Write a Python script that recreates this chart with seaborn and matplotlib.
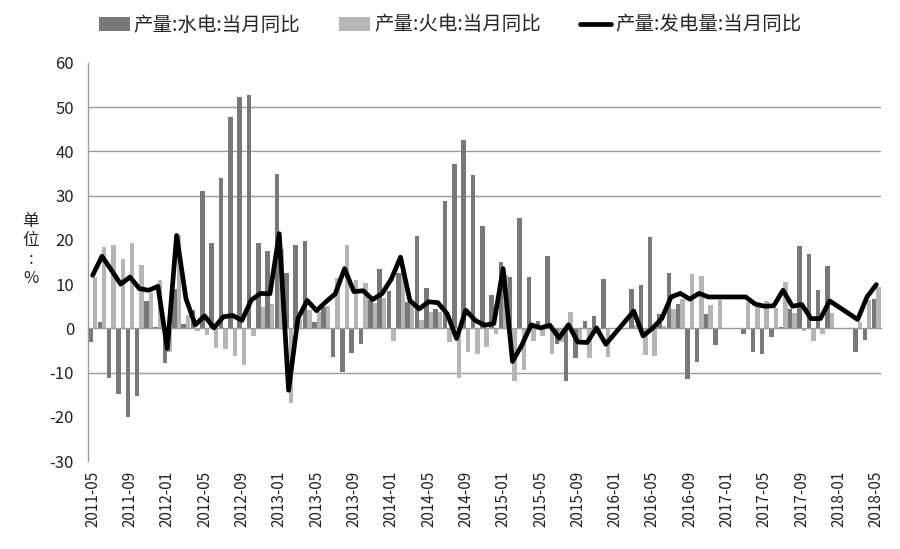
import numpy as np
import pandas as pd
import matplotlib
matplotlib.use("Agg")
import matplotlib.pyplot as plt
import seaborn as sns

nan = np.nan

# ---------------- data ----------------
start_year, start_month, n_months = 2011, 5, 85
months = []
y, m = start_year, start_month
for _ in range(n_months):
    months.append(f"{y}-{m:02d}")
    m += 1
    if m > 12:
        m, y = 1, y + 1

hydro = [-3.1, 1.4, -11.3, -14.8, -20.0, -15.3, 6.1, 0.3, -7.8, 9.0,
         0.9, 4.2, 31.0, 19.3, 34.0, 47.8, 52.3, 52.8, 19.3, 17.4,
         34.8, 12.4, 18.8, 19.7, 1.4, 4.8, -6.5, -9.9, -5.5, -3.5,
         6.3, 13.5, 8.4, 12.4, 6.0, 20.8, 9.2, 4.3, 28.7, 37.1,
         42.6, 34.7, 23.1, 7.5, 14.9, 11.5, 25.0, 11.6, 1.7, 16.3,
         -3.5, -11.9, -6.7, 1.7, 2.9, 11.1, nan, nan, 9.0, 9.9,
         20.6, 3.3, 12.4, 5.4, -11.4, -7.6, 3.2, -3.7, nan, nan,
         -1.2, -5.4, -5.9, -2.0, 0.3, 4.4, 18.6, 16.7, 8.6, 14.0,
         nan, nan, -5.4, -2.7, 6.7]

thermal = [11.6, 18.4, 18.8, 15.6, 19.4, 14.3, 8.0, 10.9, -5.3, 21.0,
           3.0, -0.6, -1.6, -4.4, -4.7, -6.3, -8.3, -1.7, 4.8, 5.4,
           18.0, -16.8, 2.0, 4.1, 3.7, 5.0, 11.4, 18.9, 10.9, 10.3,
           5.7, 6.9, -2.9, 14.0, 5.6, 1.8, 3.8, 3.7, -3.1, -11.2,
           -5.4, -5.9, -4.2, -1.3, 12.0, -11.9, -9.4, -2.9, -1.7, -5.9,
           -3.1, 3.6, -2.7, -6.7, -1.2, -6.5, nan, nan, 0.8, -6.1,
           -6.3, 0.5, 4.4, 6.7, 12.2, 11.8, 5.2, 6.3, nan, nan,
           6.0, 4.8, 6.2, 4.7, 10.4, 3.5, -0.7, -2.9, -1.3, 3.5,
           nan, nan, 1.4, 6.3, 9.4]

total = [12.0, 16.3, 13.2, 10.0, 11.6, 9.0, 8.6, 9.5, -4.6, 21.0,
         6.7, 0.8, 2.8, 0.1, 2.6, 2.9, 1.8, 6.4, 7.9, 7.8,
         21.4, -14.0, 2.2, 6.3, 4.0, 6.0, 7.8, 13.5, 8.3, 8.5,
         6.5, 7.8, 11.1, 16.1, 6.3, 4.4, 6.0, 5.8, 3.3, -2.3,
         4.1, 1.8, 0.7, 1.1, 13.5, -7.5, -3.8, 0.8, 0.1, 0.7,
         -2.2, 0.8, -3.1, -3.2, 0.1, -3.6, nan, nan, 3.9, -1.7,
         0.0, 2.2, 7.1, 7.9, 6.6, 7.9, 7.1, 7.1, nan, nan,
         7.1, 5.5, 5.0, 5.1, 8.6, 5.0, 5.4, 2.2, 2.2, 6.2,
         nan, nan, 2.0, 7.1, 9.9]

name_hydro = "产量:水电:当月同比"
name_thermal = "产量:火电:当月同比"
name_total = "产量:发电量:当月同比"

y_ticks = list(range(-30, 61, 10))
grid_levels = [50, 40, 30, -10]
label_step = 4

# ---------------- styling ----------------
dark = "#787878"
light = "#b5b5b5"
axis_gray = "#9a9a9a"

sns.set_theme(style="white")
plt.rcParams["font.family"] = ["Noto Sans CJK SC", "DejaVu Sans"]
plt.rcParams["axes.unicode_minus"] = False

fig = plt.figure(figsize=(9, 5.49), dpi=100)
ax = fig.add_axes([88 / 900, 88 / 549, 793 / 900, 398 / 549])

bars = pd.DataFrame({"month": months, name_hydro: hydro, name_thermal: thermal})
long = bars.melt(id_vars="month", var_name="series", value_name="value").dropna()

sns.barplot(data=long, x="month", y="value", hue="series",
            order=months, hue_order=[name_hydro, name_thermal],
            palette=[dark, light], width=0.96, saturation=1,
            errorbar=None, linewidth=0, ax=ax)

line_df = pd.DataFrame({"pos": np.arange(len(months)), "total": total}).dropna()
sns.lineplot(data=line_df, x="pos", y="total", color="black", linewidth=3.4,
             label=name_total, ax=ax, zorder=5)

ax.set_xlim(-0.5, len(months) - 0.5)
ax.set_ylim(min(y_ticks), max(y_ticks))
ax.set_xlabel("")
ax.set_ylabel("")

# y axis
ax.set_yticks(y_ticks)
ax.set_yticklabels([str(v) for v in y_ticks], fontsize=12, color="#222222")
ax.tick_params(axis="y", length=0, pad=10)
ax.yaxis.grid(True, color=axis_gray, linewidth=1)
ax.set_axisbelow(True)
for tick, val in zip(ax.yaxis.get_major_ticks(), y_ticks):
    tick.gridline.set_visible(val in grid_levels)

# spines
for s in ["top", "right"]:
    ax.spines[s].set_visible(False)
ax.spines["left"].set_color(axis_gray)
ax.spines["left"].set_linewidth(1)
ax.spines["bottom"].set_position(("data", 0))
ax.spines["bottom"].set_color(axis_gray)
ax.spines["bottom"].set_linewidth(1)

# tick marks at group boundaries on the zero axis
boundaries = np.arange(-0.5, len(months) - 0.5, label_step)
ax.set_xticks(boundaries)
ax.tick_params(axis="x", which="major", direction="out", length=5,
               color=axis_gray, width=1, labelbottom=False)

# date labels at the bottom
sec = ax.secondary_xaxis("bottom")
label_pos = list(range(0, len(months), label_step))
sec.set_xticks(label_pos)
sec.set_xticklabels([months[i] for i in label_pos], rotation=90,
                    fontsize=11, color="#222222")
sec.tick_params(length=0, pad=7)
sec.spines["bottom"].set_visible(False)

# y label stacked
ax.set_ylabel("单\n位\n:\n%", rotation=0, fontsize=12, linespacing=1.15,
              color="#222222", va="center", ha="center")
ax.yaxis.set_label_coords(-0.072, 0.53)

# legend
handles, labels = ax.get_legend_handles_labels()
if ax.get_legend() is not None:
    ax.get_legend().remove()
fig.legend(handles, labels, loc="center", bbox_to_anchor=(0.5, 1 - 25 / 549),
           ncol=3, frameon=False, fontsize=14, handlelength=1.6,
           handletextpad=0.2, columnspacing=2.0)

fig.savefig("out.png", dpi=100)
